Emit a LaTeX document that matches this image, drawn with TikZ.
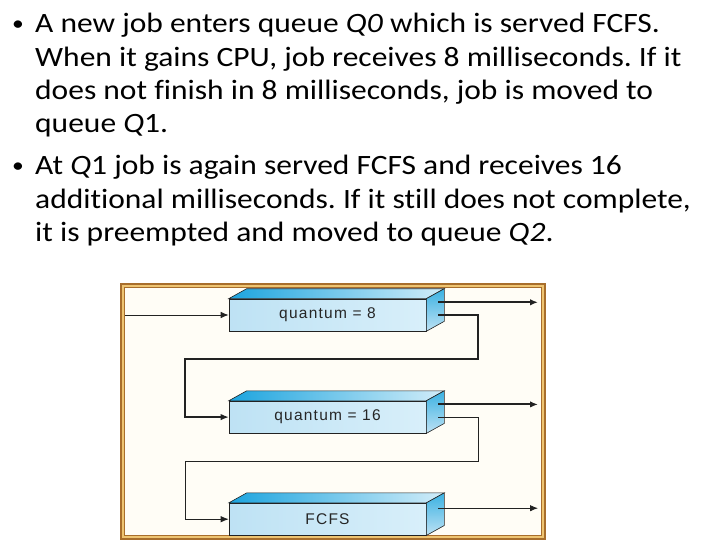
\documentclass[tikz,border=0pt]{standalone}
\usepackage{fontspec}
\setmainfont{Carlito}[FakeStretch=1.125,Ligatures=NoCommon]
\newfontfamily\qfont[LetterSpace=8]{Liberation Sans}
\usetikzlibrary{positioning,arrows.meta,calc}
\frenchspacing
\definecolor{cFront}{HTML}{BEE2F4}
\definecolor{cFrontR}{HTML}{D8EFFA}
\definecolor{cTop}{HTML}{1CA4DE}
\definecolor{cTopR}{HTML}{D2EDF9}
\definecolor{cSide}{HTML}{3AB1E2}
\definecolor{cFrame}{HTML}{A86E2C}
\definecolor{cGold}{HTML}{EEC472}
\definecolor{cCream}{HTML}{FFFDF6}
\definecolor{cLine}{HTML}{222222}
\tikzset{
  queue/.style={draw=cLine,line width=0.6pt,left color=cFront,right color=cFrontR,minimum width=197pt,minimum height=32pt,inner sep=0pt,font=\qfont\fontsize{15.5}{17}\selectfont,text=black!85},
  face/.style={draw=cLine,line width=0.6pt},
  arr/.style={-{Latex[length=8pt,width=6.5pt]},draw=cLine,line width=0.9pt},
  tarr/.style={arr,line width=2pt},
  lp/.style={arr,line width=1.3pt},
  txt/.style={anchor=base west,inner sep=0pt,font=\fontsize{28}{33}\selectfont},
  dot/.style={txt,font=\fontsize{21}{24}\selectfont}}
\begin{document}
\begin{tikzpicture}[x=1pt,y=-1pt]
\useasboundingbox (0,0) rectangle (720,540);
% bullet text
\node[dot] (b1) at (12,31) {•};
\node[dot] (b2) at (12,173) {•};
\foreach \y/\t in {33/{A new job enters queue \textit{Q0} which is served FCFS.},
  66.5/{When it gains CPU, job receives 8 milliseconds. If it},
  100/{does not finish in 8 milliseconds, job is moved to},
  133/{queue \textit{Q}1.},
  175/{At \textit{Q}1 job is again served FCFS and receives 16},
  208/{additional milliseconds. If it still does not complete,},
  241/{it is preempted and moved to queue \textit{Q2}.}}
  \node[txt] at (35,\y) {\t};
% frame
\fill[cCream] (125,288) rectangle (541,535);
\draw[cFrame,line width=5pt] (122.5,285.5) rectangle (543.5,537.5);
\draw[cGold,line width=2pt] (123,286) rectangle (543,537);
% queues
\node[queue] (q1) at (327.5,315) {quantum = 8};
\node[queue,below=69.5pt of q1] (q2) {quantum = 16};
\node[queue,below=69.5pt of q2] (q3) {FCFS};
\foreach \q in {q1,q2,q3}{
  \draw[face,left color=cTop,right color=cTopR] (\q.north west) -- ++(18pt,10pt) -- ($(\q.north east)+(18pt,10pt)$) -- (\q.north east) -- cycle;
  \draw[face,top color=cSide,bottom color=cFront] (\q.north east) -- ++(18pt,10pt) -- ($(\q.south east)+(18pt,10pt)$) -- (\q.south east) -- cycle;
}
% connectors
\coordinate (in) at (125,315); \coordinate (edge) at (538,0);
\coordinate (r1) at (478,359); \coordinate (l1) at (185,359);
\coordinate (r2) at (478,461.5); \coordinate (l2) at (185,461.5);
\path ($(q1.east)+(12pt,12.7pt)$) coordinate (x1) ($(q2.east)+(12pt,12.7pt)$) coordinate (x2) ($(q3.east)+(12pt,11pt)$) coordinate (x3);
\draw[arr] (in) -- (q1.west);
\draw[tarr] (x1) -- (x1 -| edge); \draw[tarr] (x2) -- (x2 -| edge); \draw[arr] (x3) -- (x3 -| edge);
\draw[lp] ($(q1.east)+(12pt,0)$) -| (r1) -- (l1) |- (q2.west);
\draw[arr] ($(q2.east)+(12pt,0)$) -| (r2) -- (l2) |- (q3.west);
\end{tikzpicture}
\end{document}
